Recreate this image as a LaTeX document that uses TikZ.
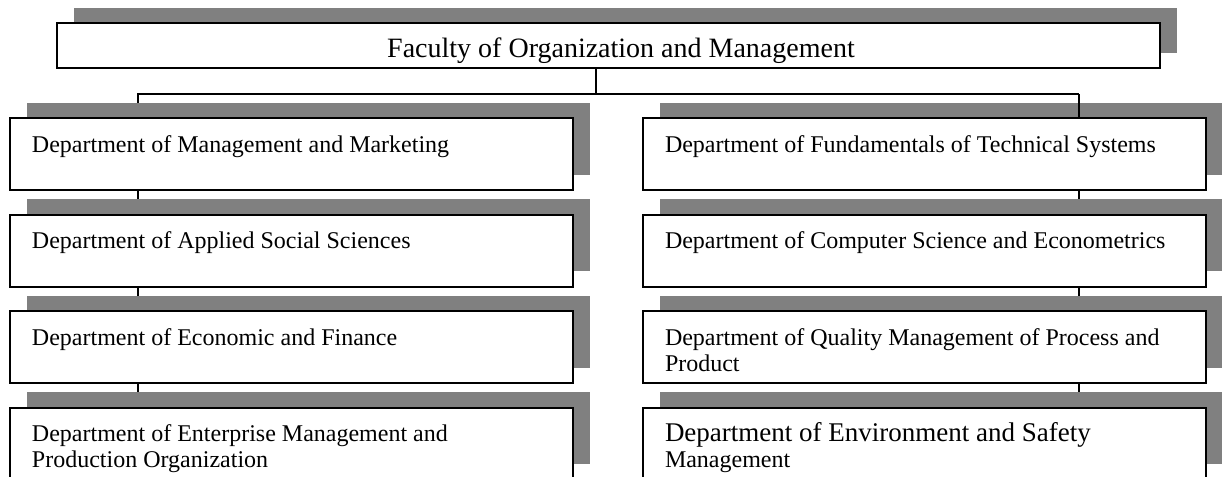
\documentclass[tikz,border=0pt]{standalone}
\usepackage{fontspec}
\setmainfont{Liberation Serif}
\usetikzlibrary{positioning,shadows,backgrounds}

\newcommand{\deptname}[1]{\parbox[c][36pt][t]{259.5pt}{\raggedright\rule{0pt}{17pt}#1}}

\begin{document}
\begin{tikzpicture}[%
    shadowed/.style={
        drop shadow={shadow xshift=8.25pt, shadow yshift=7.75pt, fill=gray, opacity=1}
        },
    facultybox/.style={
        draw,
        line width=1pt,
        fill=white,
        minimum width=551.5pt,
        minimum height=22.5pt,
        inner sep=0pt,
        outer sep=0pt,
        shadowed,
        font=\fontsize{14}{16}\selectfont
        },
    deptbox/.style={
        draw,
        line width=1pt,
        fill=white,
        minimum width=281.5pt,
        minimum height=36pt,
        inner xsep=11pt,
        inner ysep=0pt,
        outer sep=0pt,
        anchor=north west,
        shadowed,
        font=\fontsize{12}{13}\selectfont
        },
    link/.style={line width=0.8pt}
]

\useasboundingbox (0,0) rectangle (611pt,-238.5pt);

% faculty
\node[facultybox] (fac) at (304.25pt,-22.75pt) {\hspace*{12.5pt}\raisebox{-6pt}[0pt][0pt]{Faculty of Organization and Management}};

% left column
\node[deptbox] (mm) at (5pt,-59pt) {\deptname{Department of Management and Marketing}};
\node[deptbox, below=12.25pt of mm] (ass) {\deptname{Department of Applied Social Sciences}};
\node[deptbox, below=12.25pt of ass] (ef) {\deptname{Department of Economic and Finance}};
\node[deptbox, below=12.25pt of ef] (empo) {\deptname{Department of Enterprise Management and\\Production Organization}};

% right column
\node[deptbox] (fts) at (321.5pt,-59pt) {\deptname{Department of Fundamentals of Technical Systems}};
\node[deptbox, below=12.25pt of fts] (cse) {\deptname{Department of Computer Science and Econometrics}};
\node[deptbox, below=12.25pt of cse] (qmpp) {\deptname{Department of Quality Management of Process and\\Product}};
\node[deptbox, below=12.25pt of qmpp] (esm) {\deptname{{\fontsize{13.5}{15}\selectfont Department of Environment and Safety}\\Management}};

\coordinate (hub) at (298pt,-47pt);
\coordinate (leftbus) at (69pt,-47pt);
\coordinate (rightbus) at (539.5pt,-47pt);

\begin{scope}[on background layer]
\draw[link] (fac.south -| hub) -- (hub);
\draw[link] (mm.north -| leftbus) -- (leftbus) -- (rightbus);
\draw[link] (mm.south -| leftbus) -- (ass.north -| leftbus);
\draw[link] (ass.south -| leftbus) -- (ef.north -| leftbus);
\draw[link] (ef.south -| leftbus) -- (empo.north -| leftbus);
\draw[link] (fts.south -| rightbus) -- (cse.north -| rightbus);
\draw[link] (cse.south -| rightbus) -- (qmpp.north -| rightbus);
\draw[link] (qmpp.south -| rightbus) -- (esm.north -| rightbus);
\end{scope}

\draw[link] (rightbus) -- (fts.north -| rightbus);

\end{tikzpicture}
\end{document}
